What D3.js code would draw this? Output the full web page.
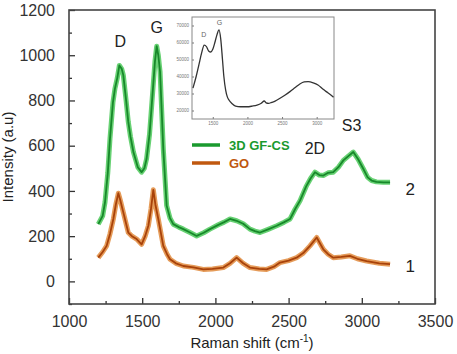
<!DOCTYPE html>
<html>
<head>
<meta charset="utf-8">
<script src="https://cdn.jsdelivr.net/npm/d3@7"></script>
<style>
body { margin:0; background:#fff; }
svg { display:block; font-family:"Liberation Sans", Arial, sans-serif; }
</style>
</head>
<body>
<div id="chart"></div>
<script>
// main spectra
var gfX = [1200,1230,1246,1265,1280,1300,1314,1330,1344,1360,1371,1390,1405,1420,1440,1470,1496,1515,1530,1550,1565,1587,1599,1610,1622,1644,1667,1690,1712,1750,1781,1830,1872,1920,1963,2020,2060,2100,2145,2190,2236,2270,2305,2360,2419,2470,2510,2545,2578,2620,2650,2680,2710,2737,2770,2805,2840,2874,2910,2942,2975,3010,3040,3067,3100,3147,3193];
var gfY = [253,290,350,480,631,790,853,900,955,940,912,800,705,640,572,505,483,500,542,650,779,972,1040,1000,927,587,335,280,253,240,231,215,201,215,231,250,262,276,268,255,231,222,216,230,246,262,276,320,357,420,455,483,470,468,480,483,505,535,555,572,540,498,460,446,440,438,438];

var goX = [1200,1230,1257,1280,1303,1320,1337,1350,1371,1405,1430,1462,1496,1520,1542,1560,1576,1590,1610,1644,1670,1690,1730,1781,1850,1917,1980,2054,2100,2145,2190,2236,2300,2350,2400,2441,2500,2555,2600,2646,2692,2737,2770,2805,2860,2919,2970,3033,3120,3193];
var goY = [105,130,157,210,276,340,390,360,305,216,200,187,164,200,246,320,405,340,276,157,120,98,80,68,62,53,55,61,80,105,80,61,55,53,65,83,92,105,125,157,194,142,120,105,108,113,100,90,80,76];

// inset spectrum
var insetX = [1214,1260,1300,1340,1376,1410,1440,1471,1500,1530,1560,1590,1615,1640,1660,1686,1710,1733,1780,1829,1900,1995,2070,2139,2200,2243,2270,2305,2350,2400,2471,2540,2614,2690,2757,2820,2876,2950,3019,3080,3138,3200,3243];
var insetY = [33200,40000,47000,54000,58500,57500,55000,54400,56000,60000,64500,67400,62000,50000,40000,32000,28000,26200,24000,22600,22200,22200,22600,23200,24300,25600,24500,24200,24800,25500,27200,29000,31100,33500,35600,36800,37000,36300,35000,33000,31100,29300,27800];

var xTicks = [1000,1500,2000,2500,3000,3500];
var xMinor = [1250,1750,2250,2750,3250];
var yTicks = [0,200,400,600,800,1000,1200];
var yMinor = [-100,100,300,500,700,900,1100];
var insetXTicks = [1500,2000,2500,3000];
var insetYTicks = [20000,30000,40000,50000,60000,70000];

var peakLabels = [
  {t:"D", x:1350, y:1060},
  {t:"G", x:1600, y:1125},
  {t:"2D", x:2680, y:590},
  {t:"S3", x:2930, y:690}
];
var seriesNames = ["3D GF-CS","GO"];

var W = 457, H = 354;
var margin = {left:69, right:22, top:10, bottom:50};
var pw = W - margin.left - margin.right;
var ph = H - margin.top - margin.bottom;

var svg = d3.select("#chart").append("svg").attr("width", W).attr("height", H);
svg.append("rect").attr("width", W).attr("height", H).attr("fill", "#fff");

var g = svg.append("g").attr("transform", "translate(" + margin.left + "," + margin.top + ")");

var x = d3.scaleLinear().domain([1000,3500]).range([0, pw]);
var y = d3.scaleLinear().domain([-100,1200]).range([ph, 0]);

var line = d3.line().x(function(d){ return x(d[0]); }).y(function(d){ return y(d[1]); });

// axes, ticks pointing inward
g.append("g").attr("transform", "translate(0," + ph + ")")
  .call(d3.axisBottom(x).tickValues(xTicks).tickSize(-6).tickPadding(12).tickFormat(d3.format("d")));
g.append("g").attr("transform", "translate(0," + ph + ")")
  .call(d3.axisBottom(x).tickValues(xMinor).tickSize(-3).tickFormat(""));
g.append("g")
  .call(d3.axisLeft(y).tickValues(yTicks).tickSize(-6).tickPadding(14).tickFormat(d3.format("d")));
g.append("g")
  .call(d3.axisLeft(y).tickValues(yMinor).tickSize(-3).tickFormat(""));
g.selectAll(".domain").remove();
g.selectAll(".tick line").attr("stroke", "#333").attr("stroke-width", 1.3);
g.selectAll(".tick text").attr("fill", "#333").style("font-size", "16px");

g.append("rect").attr("width", pw).attr("height", ph)
  .attr("fill", "none").attr("stroke", "#444").attr("stroke-width", 1.6);

// spectra, drawn as a soft band with a darker core
var gfData = gfX.map(function(d,i){ return [d, gfY[i]]; });
var goData = goX.map(function(d,i){ return [d, goY[i]]; });

function band(data, light, dark) {
  g.append("path").attr("d", line(data)).attr("fill","none").attr("stroke",light)
    .attr("stroke-width",5).attr("stroke-linejoin","round").attr("opacity",0.85);
  g.append("path").attr("d", line(data)).attr("fill","none").attr("stroke",dark)
    .attr("stroke-width",1.8).attr("stroke-linejoin","round");
}
band(gfData, "#4cc95a", "#17882a");
band(goData, "#e08a3c", "#a8420a");

// peak labels
g.selectAll("text.peak").data(peakLabels).enter().append("text")
  .attr("class","peak")
  .attr("x", function(d){ return x(d.x); })
  .attr("y", function(d){ return y(d.y); })
  .attr("text-anchor","middle").attr("dy","0.35em")
  .style("font-size","16px").attr("fill","#222")
  .text(function(d){ return d.t; });

// curve numbers
g.append("text").attr("x", x(3330)).attr("y", y(410)).attr("dy","0.35em").attr("text-anchor","middle")
  .style("font-size","17px").attr("fill","#222").text("2");
g.append("text").attr("x", x(3330)).attr("y", y(70)).attr("dy","0.35em").attr("text-anchor","middle")
  .style("font-size","17px").attr("fill","#222").text("1");

// legend
var legColors = ["#1a9a2e","#c0580f"];
var leg = svg.append("g");
seriesNames.forEach(function(n,i){
  var yy = 145 + i*18;
  leg.append("line").attr("x1",192).attr("x2",220).attr("y1",yy).attr("y2",yy)
    .attr("stroke",legColors[i]).attr("stroke-width",3.5);
  leg.append("text").attr("x",229).attr("y",yy).attr("dy","0.35em")
    .style("font-size","13px").style("font-weight","bold").attr("fill",legColors[i]).text(n);
});

// axis titles
svg.append("text").attr("x", margin.left + pw/2).attr("y", 348).attr("text-anchor","middle")
  .style("font-size","15px").attr("fill","#222")
  .html('Raman shift (cm<tspan dy="-6" font-size="10px">-1</tspan><tspan dy="6">)</tspan>');
svg.append("text").attr("transform","translate(13," + (margin.top + ph/2) + ") rotate(-90)")
  .attr("text-anchor","middle").style("font-size","15px").attr("fill","#222").text("Intensity (a.u)");

// inset
var inL = 192, inT = 17, inW = 142, inH = 102;
var ig = svg.append("g").attr("transform","translate(" + inL + "," + inT + ")");
var ix = d3.scaleLinear().domain([1200,3250]).range([0, inW]);
var iy = d3.scaleLinear().domain([15000,75000]).range([inH, 0]);
ig.append("g").attr("transform","translate(0," + inH + ")")
  .call(d3.axisBottom(ix).tickValues(insetXTicks).tickSize(-2).tickPadding(3).tickFormat(d3.format("d")));
ig.append("g")
  .call(d3.axisLeft(iy).tickValues(insetYTicks).tickSize(-2).tickPadding(3).tickFormat(d3.format("d")));
ig.selectAll(".domain").remove();
ig.selectAll(".tick line").attr("stroke","#777");
ig.selectAll(".tick text").attr("fill","#777").style("font-size","4.5px");
ig.append("rect").attr("width",inW).attr("height",inH).attr("fill","none").attr("stroke","#888").attr("stroke-width",1);
var iline = d3.line().x(function(d){ return ix(d[0]); }).y(function(d){ return iy(d[1]); }).curve(d3.curveMonotoneX);
ig.append("path").attr("d", iline(insetX.map(function(d,i){ return [d, insetY[i]]; })))
  .attr("fill","none").attr("stroke","#333").attr("stroke-width",1.3);
ig.append("text").attr("x", ix(1370)).attr("y", iy(64500)).attr("text-anchor","middle").attr("dy","0.35em")
  .style("font-size","7px").attr("fill","#666").text("D");
ig.append("text").attr("x", ix(1595)).attr("y", iy(71500)).attr("text-anchor","middle").attr("dy","0.35em")
  .style("font-size","7px").attr("fill","#666").text("G");
</script>
</body>
</html>
